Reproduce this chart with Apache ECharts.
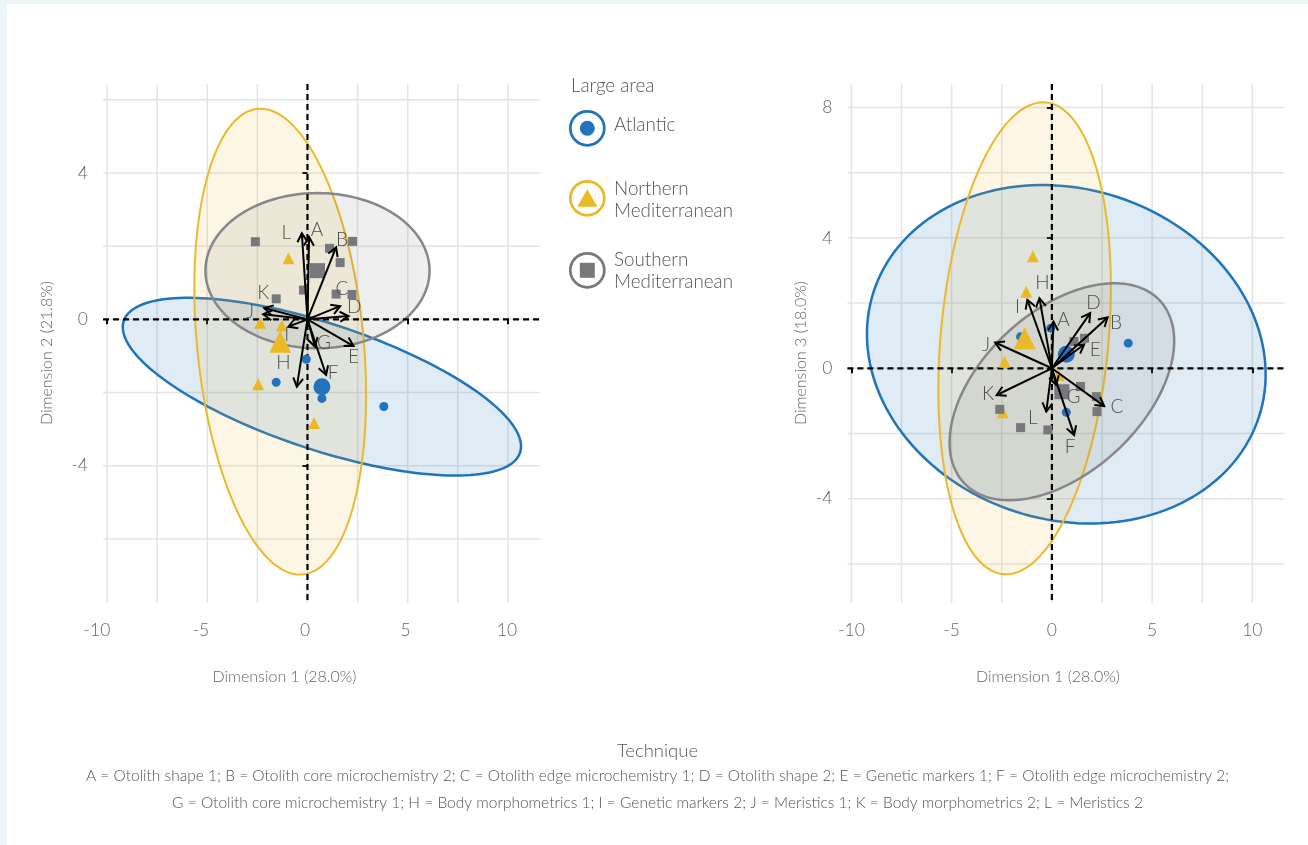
<!DOCTYPE html>
<html>
<head>
<meta charset="utf-8">
<title>Biplot of techniques by large area</title>
<script src="https://cdn.jsdelivr.net/npm/echarts@6/dist/echarts.min.js"></script>
<style>
  html, body { margin: 0; padding: 0; background: #ffffff; }
  #chart { width: 1308px; height: 845px; }
</style>
</head>
<body>
<div id="chart"></div>
<script>
// ---------------------------------------------------------------------------
// Data
// ---------------------------------------------------------------------------
const groups = ['Atlantic', 'Northern Mediterranean', 'Southern Mediterranean'];

// Study scores on the first three dimensions
const atlanticDim1 = [-0.06, -1.56, 0.72, 3.81];
const atlanticDim2 = [-1.09, -1.72, -2.16, -2.38];
const atlanticDim3 = [1.23, 0.97, -1.35, 0.77];

const northernDim1 = [-0.95, -2.36, -1.28, -2.46, 0.33];
const northernDim2 = [1.67, -0.09, -0.17, -1.77, -2.83];
const northernDim3 = [3.44, 0.20, 2.35, -1.35, -0.20];

const southernDim1 = [-2.60, 2.25, 1.10, 1.63, -0.20, -1.56, 1.43, 2.22];
const southernDim2 = [2.12, 2.13, 1.94, 1.55, 0.80, 0.56, 0.69, 0.68];
const southernDim3 = [-1.26, -1.33, 0.82, 0.92, -1.89, -1.82, -0.56, -0.87];

// Group centroids (Atlantic, Northern, Southern)
const centroidDim1 = [0.72, -1.36, 0.50];
const centroidDim2 = [-1.84, -0.61, 1.33];
const centroidDim3 = [0.43, 0.92, -0.72];

// Confidence ellipses: two conjugate semi-axis vectors per group, in axis units
const ellipse12U = [[9.885, -1.80], [1.123, -6.361], [5.59, 0.0]];
const ellipse12V = [[-0.99, -1.63], [4.134, 0.219], [0.0, 2.12]];
const ellipse13U = [[9.615, -1.914], [-1.058, -7.236], [4.888, 2.794]];
const ellipse13V = [[-2.54, -4.825], [-4.17, 0.23], [2.736, -1.807]];

// Technique loadings (arrow tips) and label anchors
const techniqueCodes = ['A', 'B', 'C', 'D', 'E', 'F', 'G', 'H', 'I', 'J', 'K', 'L'];
const arrow12X = [0.08, 1.43, 1.63, 2.05, 2.30, 0.93, 0.38, -0.53, -0.95, -2.21, -2.16, -0.28];
const arrow12Y = [2.25, 1.97, 0.36, 0.09, -0.73, -1.52, -0.75, -1.84, -0.20, 0.14, 0.31, 2.35];
const label12X = [0.48, 1.72, 1.72, 2.33, 2.30, 1.28, 0.83, -1.20, -1.03, -2.86, -2.21, -1.06];
const label12Y = [2.44, 2.17, 0.83, 0.34, -1.02, -1.47, -0.65, -1.19, -0.43, 0.21, 0.71, 2.36];

const arrow13X = [0.08, 2.78, 2.61, 1.91, 1.61, 1.11, 0.21, -0.62, -1.22, -2.83, -2.75, -0.28];
const arrow13Y = [1.43, 1.56, -1.16, 1.69, 0.73, -2.05, -0.51, 2.15, 2.10, 0.79, -0.82, -1.33];
const label13X = [0.58, 3.20, 3.25, 2.08, 2.16, 0.91, 1.08, -0.47, -1.72, -3.28, -3.18, -0.95];
const label13Y = [1.50, 1.38, -1.18, 2.01, 0.56, -2.40, -0.87, 2.61, 1.89, 0.71, -0.79, -1.53];

// Axis ranges, ticks and grid lines
const xRange = [-10.2, 11.6];
const y12Range = [-7.75, 6.43];
const y13Range = [-7.2, 8.72];
const xTickLabels = [-10, -5, 0, 5, 10];
const xGridLines = [-10, -7.5, -5, -2.5, 0, 2.5, 5, 7.5, 10];
const y12TickLabels = [-4, 0, 4];
const y12GridLines = [-6, -4, -2, 0, 2, 4, 6];
const y13TickLabels = [-4, 0, 4, 8];
const y13GridLines = [-6, -4, -2, 0, 2, 4, 6, 8];

const techniqueLegend = [
  'A = Otolith shape 1; B = Otolith core microchemistry 2; C = Otolith edge microchemistry 1; D = Otolith shape 2; E = Genetic markers 1; F = Otolith edge microchemistry 2;',
  'G = Otolith core microchemistry 1; H = Body morphometrics 1; I = Genetic markers 2; J = Meristics 1; K = Body morphometrics 2; L = Meristics 2'
];

// ---------------------------------------------------------------------------
// Styling
// ---------------------------------------------------------------------------
const FONT = 'Lato, "Open Sans", sans-serif';
const TEXT = '#555555';
const groupColors = ['#1f74bb', '#ebb926', '#78787c'];
const groupSymbols = ['circle', 'triangle', 'rect'];
const pointSizes = [9, 12, 9];
const centroidSizes = [17, 22, 15];
const ellipseStroke = ['#1f74bb', '#ecb92a', '#87878b'];
const ellipseWidth = [2.5, 2, 2.5];
const ellipseFill = ['rgba(31,116,187,0.14)', 'rgba(236,185,42,0.12)', 'rgba(120,120,124,0.12)'];

const zip = (a, b) => a.map((v, i) => [v, b[i]]);

// Straight grid lines spanning the whole plotting panel
function gridSeries(panel, values, orient, stroke, width, dash, z) {
  return {
    type: 'custom', xAxisIndex: panel, yAxisIndex: panel, silent: true, z: z,
    data: values.map(v => orient === 'x' ? [v, 0] : [0, v]),
    renderItem: (params, api) => {
      const cs = params.coordSys;
      if (orient === 'x') {
        const px = api.coord([api.value(0), 0])[0];
        return { type: 'line', shape: { x1: px, y1: cs.y, x2: px, y2: cs.y + cs.height },
          style: { stroke: stroke, lineWidth: width, lineDash: dash } };
      }
      const py = api.coord([0, api.value(1)])[1];
      return { type: 'line', shape: { x1: cs.x, y1: py, x2: cs.x + cs.width, y2: py },
        style: { stroke: stroke, lineWidth: width, lineDash: dash } };
    }
  };
}

// Filled ellipse for each group
function ellipseSeries(panel, cx, cy, U, V) {
  return {
    type: 'custom', xAxisIndex: panel, yAxisIndex: panel, silent: true, z: 1,
    data: groups.map((g, i) => [cx[i], cy[i], U[i][0], U[i][1], V[i][0], V[i][1]]),
    renderItem: (params, api) => {
      const i = params.dataIndex;
      const c = [api.value(0), api.value(1)];
      const u = [api.value(2), api.value(3)];
      const v = [api.value(4), api.value(5)];
      const pts = [];
      const n = 160;
      for (let k = 0; k < n; k++) {
        const t = (k / n) * Math.PI * 2;
        pts.push(api.coord([
          c[0] + u[0] * Math.cos(t) + v[0] * Math.sin(t),
          c[1] + u[1] * Math.cos(t) + v[1] * Math.sin(t)
        ]));
      }
      return { type: 'polygon', shape: { points: pts },
        style: { fill: ellipseFill[i], stroke: ellipseStroke[i], lineWidth: ellipseWidth[i] } };
    }
  };
}

// Loading arrows with open heads and letter labels
function arrowSeries(panel, ax, ay, lx, ly) {
  return {
    type: 'custom', xAxisIndex: panel, yAxisIndex: panel, silent: true, z: 6,
    data: ax.map((v, i) => [v, ay[i], lx[i], ly[i]]),
    renderItem: (params, api) => {
      const o = api.coord([0, 0]);
      const tip = api.coord([api.value(0), api.value(1)]);
      const lab = api.coord([api.value(2), api.value(3)]);
      const ang = Math.atan2(tip[1] - o[1], tip[0] - o[0]);
      const h = 10, s = Math.PI / 6;
      const p1 = [tip[0] - h * Math.cos(ang - s), tip[1] - h * Math.sin(ang - s)];
      const p2 = [tip[0] - h * Math.cos(ang + s), tip[1] - h * Math.sin(ang + s)];
      return {
        type: 'group',
        children: [
          { type: 'line', shape: { x1: o[0], y1: o[1], x2: tip[0], y2: tip[1] },
            style: { stroke: '#000', lineWidth: 2 } },
          { type: 'polyline', shape: { points: [p1, tip, p2] },
            style: { stroke: '#000', lineWidth: 2, fill: null, lineJoin: 'miter' } },
          { type: 'text', x: lab[0], y: lab[1], z2: 10,
            style: { text: techniqueCodes[params.dataIndex], fill: '#4f4f4f', fontSize: 19,
              fontFamily: FONT, fontWeight: 300, align: 'center', verticalAlign: 'middle' } }
        ]
      };
    }
  };
}

function scatterSeries(panel, gi, data, size, z) {
  return {
    type: 'scatter', name: groups[gi], xAxisIndex: panel, yAxisIndex: panel, silent: true, z: z,
    symbol: groupSymbols[gi], symbolSize: size, data: data,
    itemStyle: { color: groupColors[gi], opacity: 1 }
  };
}

// Tick-label styles; the left panel's labels sit slightly left of their ticks
const tickLabelBase = { color: '#666', fontSize: 17.5, fontFamily: FONT, fontWeight: 300 };
const leftXLabelShift = { '-10': 20, '-5': 13, '0': 5, '5': 4, '10': 2 };

function xAxisFor(panel) {
  const label = Object.assign({ customValues: xTickLabels, margin: 18 }, tickLabelBase);
  if (panel === 0) {
    const rich = {};
    xTickLabels.forEach((v, i) => {
      rich['t' + i] = Object.assign({ padding: [0, leftXLabelShift[String(v)], 0, 0] }, tickLabelBase);
    });
    label.formatter = v => {
      const i = xTickLabels.indexOf(v);
      return i < 0 ? String(v) : '{t' + i + '|' + v + '}';
    };
    label.rich = rich;
  }
  return {
    type: 'value', gridIndex: panel, min: xRange[0], max: xRange[1],
    axisLine: { show: false }, splitLine: { show: false },
    axisTick: { show: true, customValues: xTickLabels, length: 5, lineStyle: { color: '#000', width: 2 } },
    axisLabel: label
  };
}
function yAxisFor(panel, range, ticks) {
  return {
    type: 'value', gridIndex: panel, min: range[0], max: range[1],
    axisLine: { show: false }, splitLine: { show: false },
    axisTick: { show: true, customValues: ticks, length: 5, lineStyle: { color: '#000', width: 2 } },
    axisLabel: Object.assign({ customValues: ticks, margin: 15 }, tickLabelBase)
  };
}

const series = [
  // grid lines
  gridSeries(0, xGridLines, 'x', '#e4e4e4', 1.5, null, 0),
  gridSeries(0, y12GridLines, 'y', '#e4e4e4', 1.5, null, 0),
  gridSeries(1, xGridLines, 'x', '#e4e4e4', 1.5, null, 0),
  gridSeries(1, y13GridLines, 'y', '#e4e4e4', 1.5, null, 0),
  // confidence ellipses
  ellipseSeries(0, centroidDim1, centroidDim2, ellipse12U, ellipse12V),
  ellipseSeries(1, centroidDim1, centroidDim3, ellipse13U, ellipse13V),
  // dashed zero lines
  gridSeries(0, [0], 'x', '#000', 2.2, [6, 4], 2),
  gridSeries(0, [0], 'y', '#000', 2.2, [6, 4], 2),
  gridSeries(1, [0], 'x', '#000', 2.2, [6, 4], 2),
  gridSeries(1, [0], 'y', '#000', 2.2, [6, 4], 2),
  // study points, Dimension 1 vs 2
  scatterSeries(0, 0, zip(atlanticDim1, atlanticDim2), pointSizes[0], 3),
  scatterSeries(0, 1, zip(northernDim1, northernDim2), pointSizes[1], 3),
  scatterSeries(0, 2, zip(southernDim1, southernDim2), pointSizes[2], 3),
  // study points, Dimension 1 vs 3
  scatterSeries(1, 0, zip(atlanticDim1, atlanticDim3), pointSizes[0], 3),
  scatterSeries(1, 1, zip(northernDim1, northernDim3), pointSizes[1], 3),
  scatterSeries(1, 2, zip(southernDim1, southernDim3), pointSizes[2], 3),
  // centroids
  ...[0, 1, 2].map(g => scatterSeries(0, g, [[centroidDim1[g], centroidDim2[g]]], centroidSizes[g], 4)),
  ...[0, 1, 2].map(g => scatterSeries(1, g, [[centroidDim1[g], centroidDim3[g]]], centroidSizes[g], 4)),
  // loadings
  arrowSeries(0, arrow12X, arrow12Y, label12X, label12Y),
  arrowSeries(1, arrow13X, arrow13Y, label13X, label13Y)
];

// Legend and captions
const legendRows = [
  { cy: 128.3, lines: ['Atlantic'], textY: [125] },
  { cy: 198.3, lines: ['Northern', 'Mediterranean'], textY: [188.5, 211] },
  { cy: 270.3, lines: ['Southern', 'Mediterranean'], textY: [259.5, 282] }
];
const titleStyle = { fill: '#666', fontSize: 16, fontFamily: FONT, fontWeight: 300, align: 'center', verticalAlign: 'middle' };
const graphics = [
  { type: 'rect', shape: { x: 0, y: 0, width: 1308, height: 4 }, style: { fill: '#edf6f7' }, silent: true },
  { type: 'rect', shape: { x: 0, y: 0, width: 7, height: 845 }, style: { fill: '#edf6f7' }, silent: true },
  { type: 'text', x: 284.5, y: 677, style: Object.assign({ text: 'Dimension 1 (28.0%)' }, titleStyle) },
  { type: 'text', x: 1048, y: 677, style: Object.assign({ text: 'Dimension 1 (28.0%)' }, titleStyle) },
  { type: 'text', x: 47, y: 353, rotation: Math.PI / 2, style: Object.assign({ text: 'Dimension 2 (21.8%)' }, titleStyle) },
  { type: 'text', x: 801, y: 353, rotation: Math.PI / 2, style: Object.assign({ text: 'Dimension 3 (18.0%)' }, titleStyle) },
  { type: 'text', x: 571, y: 86, style: { text: 'Large area', fill: TEXT, fontSize: 18.8, fontFamily: FONT, fontWeight: 300, align: 'left', verticalAlign: 'middle' } },
  { type: 'text', x: 657.5, y: 751, style: { text: 'Technique', fill: TEXT, fontSize: 18.5, fontFamily: FONT, fontWeight: 300, align: 'center', verticalAlign: 'middle' } },
  { type: 'text', x: 657.5, y: 776, style: { text: techniqueLegend[0], fill: TEXT, fontSize: 15.5, fontFamily: FONT, fontWeight: 300, align: 'center', verticalAlign: 'middle' } },
  { type: 'text', x: 657.5, y: 803, style: { text: techniqueLegend[1], fill: TEXT, fontSize: 15.5, fontFamily: FONT, fontWeight: 300, align: 'center', verticalAlign: 'middle' } }
];
legendRows.forEach((row, i) => {
  const cx = 587.3, cy = row.cy;
  graphics.push({ type: 'circle', shape: { cx: cx, cy: cy, r: 17 }, style: { fill: '#fff', stroke: groupColors[i], lineWidth: 2.7 } });
  if (i === 0) {
    graphics.push({ type: 'circle', shape: { cx: cx, cy: cy, r: 7.5 }, style: { fill: groupColors[i] } });
  } else if (i === 1) {
    graphics.push({ type: 'polygon', shape: { points: [[cx, cy - 9], [cx + 10, cy + 8.4], [cx - 10, cy + 8.4]] }, style: { fill: groupColors[i] } });
  } else {
    graphics.push({ type: 'rect', shape: { x: cx - 7.5, y: cy - 7.5, width: 15, height: 15 }, style: { fill: groupColors[i] } });
  }
  row.lines.forEach((t, k) => {
    graphics.push({ type: 'text', x: 614, y: row.textY[k], style: { text: t, fill: TEXT, fontSize: 18.8, fontFamily: FONT, fontWeight: 300, align: 'left', verticalAlign: 'middle' } });
  });
});

const chart = echarts.init(document.getElementById('chart'), null, { renderer: 'canvas' });
chart.setOption({
  backgroundColor: '#ffffff',
  animation: false,
  textStyle: { fontFamily: FONT },
  grid: [
    { left: 103, top: 84, width: 437, height: 519 },
    { left: 847.4, top: 84, width: 437, height: 519 }
  ],
  xAxis: [xAxisFor(0), xAxisFor(1)],
  yAxis: [yAxisFor(0, y12Range, y12TickLabels), yAxisFor(1, y13Range, y13TickLabels)],
  series: series,
  graphic: graphics
});
</script>
</body>
</html>
